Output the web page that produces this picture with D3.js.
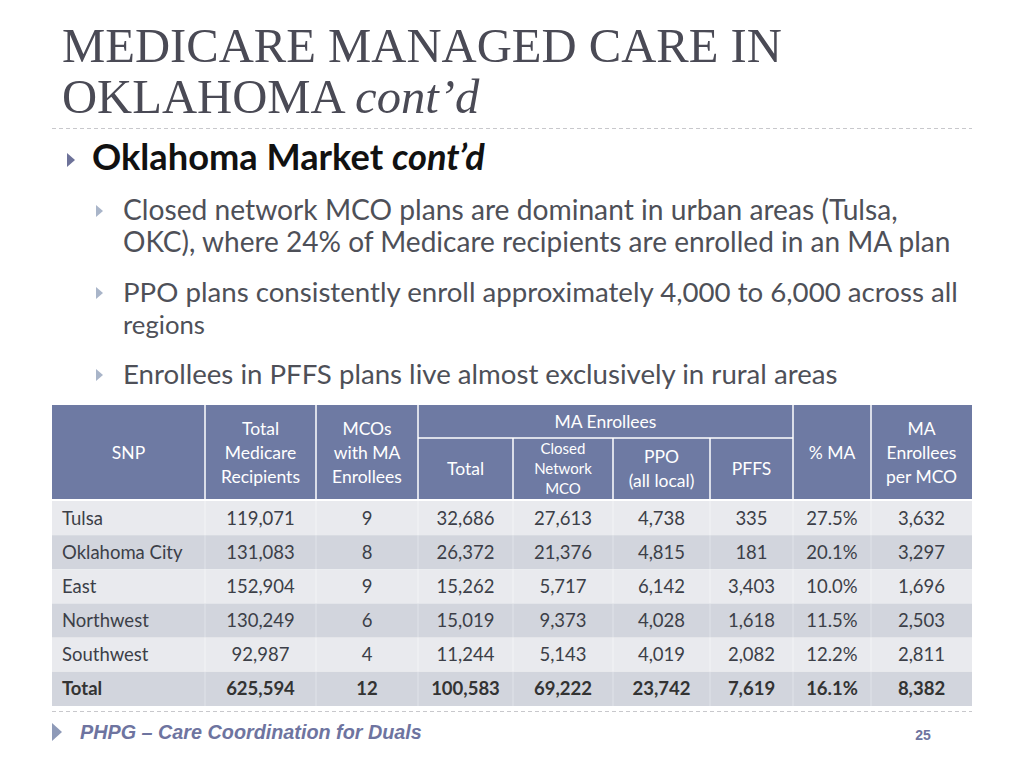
<!DOCTYPE html>
<html><head><meta charset="utf-8">
<script src="https://cdn.jsdelivr.net/npm/d3@7"></script>
<style>html,body{margin:0;padding:0;background:#fff;}svg{display:block;}</style>
</head><body>
<svg id="c" width="1024" height="768"></svg>
<script>
// ---------- data ----------
const regions = ["Tulsa","Oklahoma City","East","Northwest","Southwest","Total"];
const totalRecipients = ["119,071","131,083","152,904","130,249","92,987","625,594"];
const mcosWithMA = ["9","8","9","6","4","12"];
const maTotal = ["32,686","26,372","15,262","15,019","11,244","100,583"];
const maClosed = ["27,613","21,376","5,717","9,373","5,143","69,222"];
const maPPO = ["4,738","4,815","6,142","4,028","4,019","23,742"];
const maPFFS = ["335","181","3,403","1,618","2,082","7,619"];
const pctMA = ["27.5%","20.1%","10.0%","11.5%","12.2%","16.1%"];
const perMCO = ["3,632","3,297","1,696","2,503","2,811","8,382"];
const columnHeaders = [["SNP"],["Total","Medicare","Recipients"],["MCOs","with MA","Enrollees"],["Total"],["Closed","Network","MCO"],["PPO","(all local)"],["PFFS"],["% MA"],["MA","Enrollees","per MCO"]];
const groupHeader = "MA Enrollees";
const titleLines = ["MEDICARE MANAGED CARE IN","OKLAHOMA"];
const bulletHead = "Oklahoma Market";
const subBullets = [
  ["Closed network MCO plans are dominant in urban areas (Tulsa,","OKC), where 24% of Medicare recipients are enrolled in an MA plan"],
  ["PPO plans consistently enroll approximately 4,000 to 6,000 across all","regions"],
  ["Enrollees in PFFS plans live almost exclusively in rural areas"]
];
const footerText = "PHPG \u2013 Care Coordination for Duals";
const pageNum = "25";

// ---------- layout ----------
const svg = d3.select("#c");
const serif = "'Liberation Serif','DejaVu Serif',serif";
const sans = "Lato,'Open Sans','Noto Sans',sans-serif";

function fit(sel, w){ // scale font-size so rendered width equals w
  const n = sel.node(); const fs = parseFloat(sel.attr("font-size"));
  const cw = n.getComputedTextLength(); if(cw>0) sel.attr("font-size", fs*w/cw);
  return sel;
}

// Title
const t1 = svg.append("text").attr("x",62).attr("y",62).attr("font-family",serif).attr("font-size",48).attr("fill","#4a4a55").text(titleLines[0]);
fit(t1,720);
const tfs = parseFloat(t1.attr("font-size"));
const t2 = svg.append("text").attr("x",62).attr("y",113).attr("font-family",serif).attr("font-size",tfs).attr("fill","#4a4a55");
t2.append("tspan").text(titleLines[1]+" ");
t2.append("tspan").attr("font-style","italic").text("cont\u2019d");

// dashed rules
svg.append("line").attr("x1",52).attr("x2",972).attr("y1",128.5).attr("y2",128.5).attr("stroke","#c8c8cc").attr("stroke-width",1).attr("stroke-dasharray","4,3");

// bullet triangle helper
function tri(x,y,w,h,color){
  svg.append("path").attr("d",`M${x},${y-h/2}L${x+w},${y}L${x},${y+h/2}Z`).attr("fill",color);
}
tri(67,160,8,14,"#6d7299");
const bh = svg.append("text").attr("x",92).attr("y",170).attr("font-family",sans).attr("font-weight","bold").attr("font-size",26).attr("fill","#111");
bh.append("tspan").text(bulletHead+" ");
bh.append("tspan").attr("font-style","italic").text("cont\u2019d");
fit(bh,393);

const lineW = [[775,828],[835,82],[715]];
const bulletY = [220,302,384];
subBullets.forEach((b,i)=>{
  tri(96,bulletY[i]-9,7,12,"#a9b5c9");
  b.forEach((l,j)=>{
    const t = svg.append("text").attr("x",123).attr("y",bulletY[i]+j*32).attr("font-family",sans).attr("font-size",24).attr("fill","#4e5058").text(l);
    fit(t,lineW[i][j]);
  });
});

// ---------- table ----------
const colX = [52,205,316,418,513,613,710,793,871,972];
const headTop = 405, headBot = 499, subLine = 438;
const headColor = "#6e7aa3";
const y = d3.scaleBand().domain(regions).range([501,706]);
const g = svg.append("g");

// header background
g.append("rect").attr("x",colX[0]).attr("y",headTop).attr("width",colX[9]-colX[0]).attr("height",headBot-headTop).attr("fill",headColor);
// header lines
colX.slice(1,9).forEach((x,i)=>{
  const idx=i+1;
  const top = (idx>=4 && idx<=6) ? subLine : headTop;
  g.append("line").attr("x1",x).attr("x2",x).attr("y1",top).attr("y2",headBot).attr("stroke","#fff").attr("stroke-width",1.5);
});
g.append("line").attr("x1",colX[3]).attr("x2",colX[7]).attr("y1",subLine).attr("y2",subLine).attr("stroke","#fff").attr("stroke-width",1.5);

// header text
const hfs = 17.5;
g.append("text").attr("x",(colX[3]+colX[7])/2).attr("y",422).attr("dy","0.35em").attr("text-anchor","middle").attr("font-family",sans).attr("font-size",hfs).attr("fill","#fff").text(groupHeader);
columnHeaders.forEach((lines,i)=>{
  const cx=(colX[i]+colX[i+1])/2;
  let cy, lh=24, fs=hfs;
  if(i>=3 && i<=6){ cy=(subLine+headBot)/2; }
  else cy=(headTop+headBot)/2+1;
  if(i===4){ lh=20; fs=15; }
  const n=lines.length;
  lines.forEach((l,j)=>{
    g.append("text").attr("x",cx).attr("y",cy+(j-(n-1)/2)*lh).attr("dy","0.35em").attr("text-anchor","middle")
      .attr("font-family",sans).attr("font-size",fs).attr("fill","#fff").text(l);
  });
});

// body rows
const cols = [regions,totalRecipients,mcosWithMA,maTotal,maClosed,maPPO,maPFFS,pctMA,perMCO];
regions.forEach((r,ri)=>{
  const yy=y(r), h=y.bandwidth();
  const fill = ri%2===0 ? "#e9eaee" : "#d2d5dd";
  g.append("rect").attr("x",colX[0]).attr("y",yy).attr("width",colX[9]-colX[0]).attr("height",h).attr("fill",fill);
  colX.slice(1,9).forEach(x=>{
    g.append("line").attr("x1",x).attr("x2",x).attr("y1",yy).attr("y2",yy+h).attr("stroke","#fff").attr("stroke-opacity",ri%2===0?0.5:0.35).attr("stroke-width",1);
  });
  const bold = r==="Total";
  cols.forEach((c,ci)=>{
    const t=g.append("text").attr("y",yy+h/2).attr("dy","0.35em").attr("font-family",sans).attr("font-size",18.5)
      .attr("fill",bold?"#333":"#3c3f48").attr("font-weight",bold?"bold":"normal").text(c[ri]);
    if(ci===0) t.attr("x",62);
    else t.attr("x",(colX[ci]+colX[ci+1])/2).attr("text-anchor","middle");
  });
});

// bottom dashed rule
svg.append("line").attr("x1",52).attr("x2",972).attr("y1",711.5).attr("y2",711.5).attr("stroke","#c8c8cc").attr("stroke-width",1).attr("stroke-dasharray","4,3");

// footer
tri(52,732,10,18,"#8e9ab8");
const ft = svg.append("text").attr("x",80).attr("y",739).attr("font-family","'Liberation Sans',Arial,sans-serif").attr("font-style","italic").attr("font-weight","bold").attr("font-size",18).attr("fill","#6e74a0").text(footerText);
fit(ft,342);
svg.append("text").attr("x",923).attr("y",740).attr("text-anchor","middle").attr("font-family","'Liberation Sans',Arial,sans-serif").attr("font-weight","bold").attr("font-size",14).attr("fill","#6e74a0").text(pageNum);
</script>
</body></html>
